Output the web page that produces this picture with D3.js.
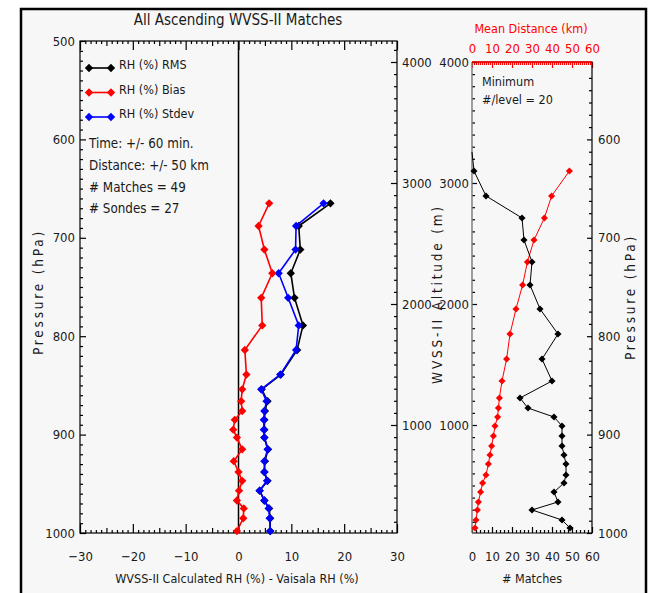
<!DOCTYPE html>
<html>
<head>
<meta charset="utf-8">
<script src="https://cdn.jsdelivr.net/npm/d3@7"></script>
<style>
  body { margin: 0; background: #fff; }
  svg { display: block; }
  text { font-family: "DejaVu Sans Condensed", "Liberation Sans Narrow", sans-serif; fill: #1a1a1a; }
</style>
</head>
<body>
<div id="chart"></div>
<script>

// Data - left panel (pressure levels with >= 20 matches)
const rhLevels = [665, 688, 712, 736, 761, 789, 814, 839, 854, 866, 876, 885, 895, 903, 915, 927, 938, 947, 957, 967, 975, 985, 998]
const rmsValues = [17.4, 11.4, 11.7, 9.9, 10.6, 12.2, 11.1, 8.0, 4.4, 5.5, 5.0, 4.9, 4.9, 4.9, 5.6, 5.0, 4.9, 5.5, 4.0, 4.9, 5.8, 6.0, 6.0]
const biasValues = [5.8, 3.8, 4.9, 6.4, 4.3, 4.5, 1.2, 1.5, 0.7, 0.5, 0.7, -0.7, -1.0, -0.3, 0.7, -0.9, 0.0, 0.7, 0.1, -0.3, 1.0, 0.9, -0.3]
const stdevValues = [16.1, 10.9, 10.8, 7.6, 9.4, 11.4, 10.9, 7.9, 4.3, 5.3, 4.9, 4.8, 4.8, 4.9, 5.5, 4.9, 4.9, 5.4, 4.0, 4.9, 5.7, 5.9, 6.0]

// Data - right panel (altitude levels)
const altLevels = [3256, 3099, 2893, 2711, 2529, 2347, 2157, 1959, 1752, 1545, 1364, 1223, 1140, 1066, 992, 909, 826, 752, 678, 587, 521, 446, 364, 298, 215, 149]
const matchCounts = [0, 1, 7, 25, 26, 30, 29, 34, 43, 35, 40, 24, 28, 41, 45, 45, 45, 46, 47, 47, 46, 41, 43, 30, 45, 49]
const meanDistance = [null, 48.7, 39.8, 36.2, 31, 27.7, 25.3, 22, 19, 17.3, 15, 13.7, 13.2, 12.8, 11.5, 10.7, 9.8, 9, 8.2, 7, 5.3, 4.3, 3.2, 2.7, 2, 1.5]

// Tick labels
const rhTicks = [-30, -20, -10, 0, 10, 20, 30]
const pressureTicks = [500, 600, 700, 800, 900, 1000]
const altTicks = [1000, 2000, 3000, 4000]
const countTicks = [0, 10, 20, 30, 40, 50, 60]

const legendItems = [
  { label: 'RH (%) RMS', color: 'black' },
  { label: 'RH (%) Bias', color: 'red' },
  { label: 'RH (%) Stdev', color: 'blue' }
]
const infoLines = ['Time: +/- 60 min.', 'Distance: +/- 50 km', '# Matches = 49', '# Sondes = 27']

function draw() {

  let dimensions = { width: 648, height: 593 }
  const lp = { x0: 80, x1: 397, y0: 41, y1: 533 }   // left plot box
  const rp = { x0: 472, x1: 592, y0: 62, y1: 533 }  // right plot box

  const svg = d3.select('#chart')
    .append('svg')
    .attr('width', dimensions.width)
    .attr('height', dimensions.height)

  // outer frame
  svg.append('rect')
    .attr('x', 21).attr('y', 9)
    .attr('width', 625).attr('height', 620)
    .attr('fill', '#f7f7f7')
    .attr('stroke', 'black')
    .attr('stroke-width', 2.5)

  // Scales
  const pressureScale = d3.scaleLinear().domain([500, 1000]).range([lp.y0, lp.y1])
  const altScale = d3.scaleLinear().domain([0, 4000]).range([546, 62])
  const rhScale = d3.scaleLinear().domain([-30, 30]).range([lp.x0, lp.x1])
  const countScale = d3.scaleLinear().domain([0, 60]).range([rp.x0, rp.x1])

  // axis helper, ticks point into the plot
  const addAxis = (orient, scale, pos, values, size, opts = {}) => {
    const maker = { left: d3.axisLeft, right: d3.axisRight, top: d3.axisTop, bottom: d3.axisBottom }[orient]
    const axis = maker(scale)
      .tickValues(values)
      .tickSize(-size)
      .tickSizeOuter(0)
      .tickPadding(opts.pad || 4)
      .tickFormat(opts.format || '')
    const vertical = orient === 'left' || orient === 'right'
    const g = svg.append('g')
      .attr('transform', vertical ? `translate(${pos},0)` : `translate(0,${pos})`)
      .call(axis)
      .attr('font-size', 13)
    g.select('.domain').remove()
    g.selectAll('line').attr('stroke', opts.color || 'black').attr('stroke-width', 1.2)
    g.selectAll('text').style('fill', opts.color || '#1a1a1a')
    return g
  }
  const fmt = d3.format('d')

  // ---- left panel axes ----
  const rhMinor = d3.range(-30, 31, 1).filter(d => d % 5 !== 0)
  const rhMid = d3.range(-25, 30, 10)
  addAxis('top', rhScale, lp.y0, rhMinor, 3)
  addAxis('top', rhScale, lp.y0, rhMid, 5)
  addAxis('top', rhScale, lp.y0, rhTicks, 9)
  addAxis('bottom', rhScale, lp.y1, rhMinor, 3)
  addAxis('bottom', rhScale, lp.y1, rhMid, 5)
  addAxis('bottom', rhScale, lp.y1, rhTicks, 9, { format: fmt, pad: 19 })

  const pMinor = d3.range(510, 1000, 10).filter(d => d % 100 !== 0)
  addAxis('left', pressureScale, lp.x0, pMinor, 3)
  addAxis('left', pressureScale, lp.x0, pressureTicks, 6, { format: fmt, pad: 5 })

  const altMinor = d3.range(200, 4200, 100).filter(d => d % 1000 !== 0)
  addAxis('right', altScale, lp.x1, altMinor, 3)
  addAxis('right', altScale, lp.x1, altTicks, 6, { format: fmt, pad: 5 })

  // plot box lines
  svg.append('rect')
    .attr('x', lp.x0).attr('y', lp.y0)
    .attr('width', lp.x1 - lp.x0).attr('height', lp.y1 - lp.y0)
    .attr('fill', 'none').attr('stroke', 'black').attr('stroke-width', 1.2)

  // zero line
  svg.append('line')
    .attr('x1', rhScale(0)).attr('x2', rhScale(0))
    .attr('y1', lp.y0).attr('y2', lp.y1)
    .attr('stroke', 'black').attr('stroke-width', 1.5)

  // ---- left panel series ----
  const series = [
    { values: rmsValues, color: 'black' },
    { values: stdevValues, color: 'blue' },
    { values: biasValues, color: 'red' }
  ]
  const diamond = d3.symbol(d3.symbolDiamond2, 44)
  series.forEach(s => {
    const pts = rhLevels.map((p, i) => [rhScale(s.values[i]), pressureScale(p)])
    svg.append('path')
      .datum(pts)
      .attr('d', d3.line())
      .attr('fill', 'none')
      .attr('stroke', s.color)
      .attr('stroke-width', 1.6)
    svg.append('g').selectAll('path')
      .data(pts)
      .join('path')
      .attr('transform', d => `translate(${d[0]},${d[1]})`)
      .attr('d', diamond)
      .attr('fill', s.color)
  })

  // legend
  legendItems.forEach((item, i) => {
    const y = 68 + i * 24.5
    svg.append('line')
      .attr('x1', 89).attr('x2', 111).attr('y1', y).attr('y2', y)
      .attr('stroke', item.color).attr('stroke-width', 1.6)
    ;[89, 111].forEach(x => {
      svg.append('path')
        .attr('transform', `translate(${x},${y})`)
        .attr('d', diamond)
        .attr('fill', item.color)
    })
    svg.append('text')
      .attr('x', 119).attr('y', y + 1)
      .attr('font-size', 12.5)
      .text(item.label)
  })
  infoLines.forEach((t, i) => {
    svg.append('text')
      .attr('x', 89).attr('y', 148 + i * 21.8)
      .attr('font-size', 13.3)
      .text(t)
  })

  // titles
  svg.append('text')
    .attr('x', 238).attr('y', 25)
    .attr('text-anchor', 'middle')
    .attr('font-size', 15)
    .text('All Ascending WVSS-II Matches')
  svg.append('text')
    .attr('x', 237).attr('y', 583)
    .attr('text-anchor', 'middle')
    .attr('font-size', 12.5)
    .text('WVSS-II Calculated RH (%) - Vaisala RH (%)')

  const rotated = (x, y, label) => svg.append('text')
    .attr('transform', `translate(${x},${y}) rotate(-90)`)
    .attr('text-anchor', 'middle')
    .attr('font-size', 13.5)
    .attr('letter-spacing', 2.8)
    .text(label)
  rotated(43, 292, 'Pressure (hPa)')
  rotated(442, 294, 'WVSS-II Altitude (m)')
  rotated(635, 297, 'Pressure (hPa)')

  // ---- right panel axes ----
  const distMinor = d3.range(0, 61, 1).filter(d => d % 10 !== 0)
  addAxis('top', countScale, rp.y0, distMinor, 3, { color: 'red' })
  addAxis('top', countScale, rp.y0, countTicks, 6, { color: 'red', format: fmt, pad: 9 })
  const cntMinor = d3.range(0, 61, 2).filter(d => d % 10 !== 0)
  addAxis('bottom', countScale, rp.y1, cntMinor, 3)
  addAxis('bottom', countScale, rp.y1, countTicks, 6, { format: fmt, pad: 19 })

  const altMinorR = d3.range(200, 4000, 100).filter(d => d % 1000 !== 0)
  addAxis('left', altScale, rp.x0, altMinorR, 3)
  addAxis('left', altScale, rp.x0, altTicks, 5, { format: fmt, pad: 3 })

  const pMinorR = d3.range(537.5, 1000, 12.5).filter(d => d % 100 !== 0)
  addAxis('right', pressureScale, rp.x1, pMinorR, 3)
  addAxis('right', pressureScale, rp.x1, pressureTicks.slice(1), 5, { format: fmt, pad: 6 })

  // right box: left edge gray, others black
  svg.append('path')
    .attr('d', `M${rp.x0},${rp.y0}H${rp.x1}V${rp.y1}H${rp.x0}`)
    .attr('fill', 'none').attr('stroke', 'black').attr('stroke-width', 1.2)
  svg.append('line')
    .attr('x1', rp.x0).attr('x2', rp.x0).attr('y1', rp.y0).attr('y2', rp.y1)
    .attr('stroke', '#777').attr('stroke-width', 1.4)
  svg.append('line')
    .attr('x1', rp.x0).attr('x2', rp.x1).attr('y1', rp.y0).attr('y2', rp.y0)
    .attr('stroke', 'red').attr('stroke-width', 1.4)

  // ---- right panel series ----
  const smallDiamond = d3.symbol(d3.symbolDiamond2, 32)
  const distPts = altLevels.map((a, i) => [meanDistance[i], a]).filter(d => d[0] !== null)
  const cntPts = altLevels.map((a, i) => [matchCounts[i], a])

  svg.append('path')
    .datum(distPts)
    .attr('d', d3.line().x(d => countScale(d[0])).y(d => altScale(d[1])))
    .attr('fill', 'none').attr('stroke', 'red').attr('stroke-width', 1)
  svg.append('g').selectAll('path')
    .data(distPts)
    .join('path')
    .attr('transform', d => `translate(${countScale(d[0])},${altScale(d[1])})`)
    .attr('d', smallDiamond)
    .attr('fill', 'red')

  svg.append('path')
    .datum(cntPts)
    .attr('d', d3.line().x(d => countScale(d[0])).y(d => altScale(d[1])))
    .attr('fill', 'none').attr('stroke', 'black').attr('stroke-width', 1)
  svg.append('g').selectAll('path')
    .data(cntPts.filter(d => d[0] > 0))
    .join('path')
    .attr('transform', d => `translate(${countScale(d[0])},${altScale(d[1])})`)
    .attr('d', smallDiamond)
    .attr('fill', 'black')

  // right panel labels
  svg.append('text')
    .attr('x', 531).attr('y', 33)
    .attr('text-anchor', 'middle')
    .attr('font-size', 12.5)
    .style('fill', 'red')
    .text('Mean Distance (km)')
  svg.append('text')
    .attr('x', 532).attr('y', 583)
    .attr('text-anchor', 'middle')
    .attr('font-size', 12.5)
    .text('# Matches')
  svg.append('text')
    .attr('x', 482).attr('y', 86)
    .attr('font-size', 12.5)
    .text('Minimum')
  svg.append('text')
    .attr('x', 482).attr('y', 104)
    .attr('font-size', 12.5)
    .text('#/level = 20')

  console.log('Chart drawn')
}

draw()
</script>
</body>
</html>
